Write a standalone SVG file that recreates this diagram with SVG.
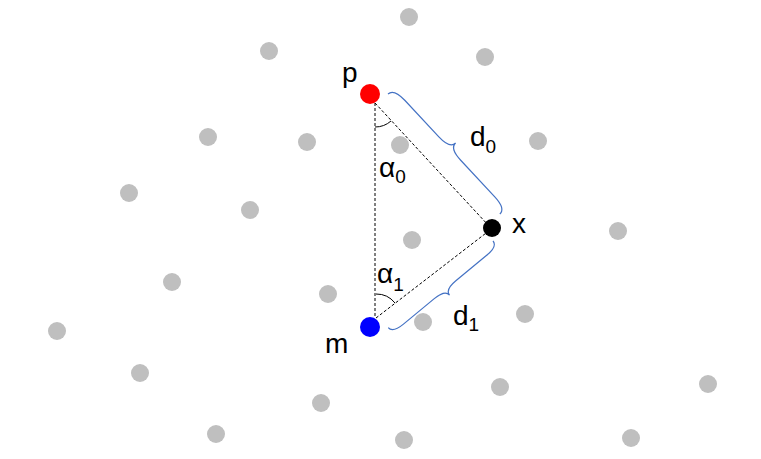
<svg xmlns="http://www.w3.org/2000/svg" width="761" height="459" viewBox="0 0 761 459">
<style>
.g{fill:#BFBFBF}
.dash{stroke:#000;stroke-width:1;stroke-dasharray:3,2;fill:none}
.arc{stroke:#000;stroke-width:1;fill:none}
.brace{stroke:#4472C4;stroke-width:1.2;fill:none}
.t{font-family:"Liberation Sans",Arial,sans-serif;font-size:28px;fill:#000}
.s{font-size:19px}
</style>
<rect width="761" height="459" fill="#fff"/>
<g id="background-dots">
<circle class="g" cx="409" cy="17" r="9"/>
<circle class="g" cx="269" cy="51" r="9"/>
<circle class="g" cx="485" cy="57" r="9"/>
<circle class="g" cx="208" cy="137" r="9"/>
<circle class="g" cx="307" cy="142" r="9"/>
<circle class="g" cx="400" cy="145" r="9"/>
<circle class="g" cx="538" cy="141" r="9"/>
<circle class="g" cx="129" cy="193" r="9"/>
<circle class="g" cx="250" cy="210" r="9"/>
<circle class="g" cx="412" cy="240" r="9"/>
<circle class="g" cx="618" cy="231" r="9"/>
<circle class="g" cx="172" cy="282" r="9"/>
<circle class="g" cx="328" cy="294" r="9"/>
<circle class="g" cx="423" cy="322" r="9"/>
<circle class="g" cx="525" cy="314" r="9"/>
<circle class="g" cx="57" cy="331" r="9"/>
<circle class="g" cx="140" cy="373" r="9"/>
<circle class="g" cx="500" cy="387" r="9"/>
<circle class="g" cx="708" cy="384" r="9"/>
<circle class="g" cx="321" cy="403" r="9"/>
<circle class="g" cx="216" cy="434" r="9"/>
<circle class="g" cx="404" cy="440" r="9"/>
<circle class="g" cx="631" cy="438" r="9"/>
</g>
<g id="connectors">
<line class="dash" x1="375" y1="103" x2="375" y2="318"/>
<line class="dash" x1="375" y1="103" x2="489" y2="226"/>
<line class="dash" x1="376" y1="318" x2="490" y2="230"/>
<path class="arc" d="M375,127 A24,24 0 0 0 391,121"/>
<path class="arc" d="M376,294 A24,24 0 0 1 395,303"/>
<path class="brace" transform="translate(388,94) rotate(47)" d="M0,0 C0,-6 6,-8 16,-8 L66,-8 C76,-8 82,-10 82,-16 C82,-10 88,-8 98,-8 L148,-8 C158,-8 164,-6 164,0"/>
<path class="brace" transform="translate(493,241) rotate(140.4)" d="M0,0 C0,-5 5,-7 14,-7 L54,-7 C63,-7 68,-9 68,-14 C68,-9 73,-7 82,-7 L122,-7 C131,-7 136,-5 136,0"/>
</g>
<g id="node-p">
<circle cx="370" cy="94" r="10" fill="#FF0000"/>
<text class="t" x="342" y="82">p</text>
</g>
<g id="node-x">
<circle cx="492" cy="228" r="9" fill="#000"/>
<text class="t" x="512" y="233">x</text>
</g>
<g id="node-m">
<circle cx="370" cy="327" r="10" fill="#0000FF"/>
<text class="t" x="325" y="353">m</text>
</g>
<g id="label-d0"><text class="t" x="470" y="146">d<tspan class="s" dy="7">0</tspan></text></g>
<g id="label-d1"><text class="t" x="453" y="325">d<tspan class="s" dy="6">1</tspan></text></g>
<g id="label-a0"><text class="t" x="379" y="177">α<tspan class="s" dy="6">0</tspan></text></g>
<g id="label-a1"><text class="t" x="377" y="283">α<tspan class="s" dy="8">1</tspan></text></g>
</svg>
